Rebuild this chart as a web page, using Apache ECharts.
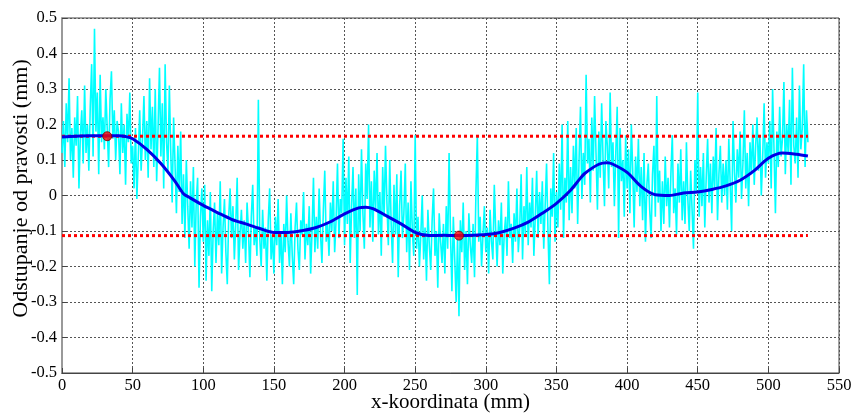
<!DOCTYPE html>
<html>
<head>
<meta charset="utf-8">
<script src="https://cdn.jsdelivr.net/npm/echarts@6/dist/echarts.min.js"></script>
<style>
  html, body { margin: 0; padding: 0; background: #fff; }
  #chart { width: 852px; height: 414px; }
</style>
</head>
<body>
<div id="chart"></div>
<script>
// izmjereni profil, korak 1 mm (od 0 do 528 mm)
var noiseY = [
  0.12, 0.21, 0.08, 0.26, 0.15, 0.33, 0.10, 0.19, 0.05, 0.22,
  0.14, 0.28, 0.02, 0.17, 0.24, 0.09, 0.31, 0.12, 0.20, 0.07,
  0.25, 0.37, 0.11, 0.47, 0.18, 0.29, 0.06, 0.34, 0.15, 0.22,
  0.13, 0.30, 0.19, 0.08, 0.27, 0.35, 0.16, 0.24, 0.10, 0.21,
  0.18, 0.06, 0.26, 0.12, 0.20, 0.03, 0.23, 0.15, 0.29, 0.09,
  0.14, 0.02, 0.19, -0.01, 0.11, 0.24, 0.07, 0.16, 0.28, 0.10,
  0.21, 0.05, 0.33, 0.13, 0.25, 0.08, 0.30, 0.04, 0.19, 0.36,
  0.11, 0.26, 0.02, 0.37, 0.15, 0.07, 0.31, 0.12, -0.02, 0.22,
  0.09, -0.05, 0.14, 0.01, 0.18, -0.08, 0.06, -0.12, 0.10, -0.03,
  -0.15, 0.04, -0.09, 0.08, -0.20, -0.02, 0.05, -0.26, -0.06, 0.02,
  -0.13, 0.03, -0.24, -0.07, -0.17, 0.01, -0.27, -0.10, -0.02, -0.19,
  -0.05, -0.14, 0.04, -0.22, -0.09, -0.01, -0.16, -0.25, -0.06, 0.02,
  -0.12, -0.03, -0.18, -0.08, 0.05, -0.21, -0.11, -0.04, -0.15, -0.07,
  -0.19, -0.02, -0.10, -0.23, -0.06, 0.03, -0.14, -0.09, -0.17, 0.27,
  -0.12, -0.20, -0.04, -0.15, -0.09, -0.24, -0.07, 0.02, -0.18, -0.11,
  -0.22, -0.06, -0.14, -0.01, -0.19, -0.10, -0.25, -0.08, -0.16, 0.00,
  -0.13, -0.20, -0.05, -0.17, -0.25, -0.09, -0.02, -0.15, -0.21, -0.07,
  -0.11, 0.01, -0.18, -0.08, -0.14, -0.03, -0.22, -0.10, 0.05, -0.16,
  -0.06, -0.15, 0.02, -0.11, -0.19, -0.04, 0.07, -0.13, -0.08, -0.17,
  -0.02, -0.10, 0.04, -0.16, -0.07, 0.09, -0.12, -0.01, -0.05, 0.16,
  -0.14, 0.05, -0.08, 0.11, -0.19, -0.03, 0.08, -0.12, 0.02, -0.28,
  0.06, -0.10, 0.13, -0.05, -0.15, 0.09, -0.01, 0.20, -0.09, 0.04,
  -0.13, 0.07, -0.04, 0.12, -0.11, 0.01, -0.17, 0.08, -0.06, 0.14,
  -0.02, -0.14, 0.10, -0.08, -0.19, 0.03, -0.11, 0.06, -0.23, -0.03,
  0.07, -0.12, -0.05, 0.09, -0.16, -0.02, -0.21, 0.04, -0.10, -0.17,
  0.17, -0.15, -0.06, -0.20, -0.11, 0.00, -0.18, -0.09, -0.24, -0.04,
  -0.14, -0.21, -0.07, 0.02, -0.17, -0.10, -0.26, -0.05, -0.13, -0.19,
  -0.08, -0.22, -0.03, -0.15, 0.12, -0.11, -0.27, -0.06, -0.18, -0.30,
  -0.12, -0.34, -0.07, -0.16, -0.02, -0.21, -0.10, -0.25, -0.05, -0.14,
  -0.19, -0.08, -0.23, 0.01, 0.17, -0.13, -0.06, -0.20, -0.11, -0.03,
  -0.16, -0.09, -0.22, -0.04, -0.13, -0.18, 0.03, -0.10, -0.20, -0.07,
  -0.14, -0.02, -0.22, -0.11, -0.06, -0.17, 0.04, -0.12, -0.08, -0.19,
  -0.05, -0.13, 0.02, -0.16, -0.09, 0.06, -0.18, -0.03, -0.11, 0.08,
  -0.14, -0.02, -0.09, 0.05, -0.17, -0.06, 0.07, -0.12, 0.01, -0.08,
  0.04, -0.15, -0.03, 0.09, -0.10, -0.25, 0.02, -0.06, 0.12, -0.13,
  0.01, -0.09, 0.09, -0.04, 0.20, -0.12, 0.05, -0.02, 0.21, -0.07,
  0.08, -0.05, 0.14, 0.02, 0.19, -0.08, 0.10, 0.25, -0.01, 0.12,
  0.03, 0.34, 0.09, 0.16, -0.02, 0.22, 0.07, 0.28, 0.12, -0.04,
  0.18, 0.05, 0.26, 0.10, -0.03, 0.21, 0.14, 0.02, 0.29, 0.08,
  0.15, -0.03, 0.12, 0.25, -0.12, 0.19, 0.04, 0.10, -0.06, 0.17,
  0.02, 0.13, -0.05, 0.20, 0.07, -0.09, 0.11, 0.01, 0.16, -0.03,
  0.08, -0.07, 0.12, -0.13, 0.03, 0.09, -0.04, -0.12, 0.06, 0.14,
  -0.06, 0.28, -0.02, 0.07, -0.10, 0.04, -0.08, 0.11, -0.03, 0.05,
  -0.09, 0.06, 0.17, -0.05, 0.02, -0.11, 0.09, -0.02, 0.13, -0.07,
  0.04, -0.08, 0.15, -0.01, -0.10, 0.07, -0.04, -0.15, 0.10, 0.01,
  0.29, -0.06, 0.08, -0.03, 0.12, -0.09, 0.05, 0.16, -0.02, 0.09,
  -0.05, 0.11, 0.02, 0.19, -0.07, 0.06, 0.14, -0.02, 0.09, 0.00,
  0.10, -0.04, 0.16, 0.03, -0.10, 0.21, 0.07, -0.02, 0.13, 0.05,
  0.18, -0.01, 0.09, 0.24, 0.02, 0.12, -0.03, 0.15, 0.06, 0.20,
  0.03, 0.14, 0.22, 0.07, 0.17, 0.00, 0.11, 0.26, 0.05, 0.15,
  0.09, 0.21, 0.02, 0.30, 0.13, -0.05, 0.18, 0.08, 0.25, 0.11,
  0.16, 0.32, 0.06, 0.20, 0.12, 0.27, 0.03, 0.36, 0.14, 0.09,
  0.22, 0.05, 0.31, 0.13, 0.19, 0.37, 0.08, 0.24, 0.15
];

// zagladjeni profil
var smoothX = [0, 10, 20, 30, 40, 45, 50, 60, 70, 80, 86, 90, 100, 110, 120, 130, 140, 150, 160, 170,
  180, 190, 200, 210, 215, 220, 230, 240, 250, 260, 270, 280, 290, 300, 310, 320, 330, 340, 350, 360,
  366, 370, 380, 386, 390, 400, 410, 420, 430, 440, 450, 460, 470, 480, 490, 500, 510, 520, 528];
var smoothY = [0.165, 0.167, 0.168, 0.168, 0.168, 0.166, 0.16, 0.13, 0.09, 0.04, 0.005, -0.005, -0.028, -0.048, -0.067, -0.08, -0.093, -0.104, -0.104, -0.099,
  -0.09, -0.074, -0.052, -0.035, -0.033, -0.037, -0.058, -0.08, -0.104, -0.113, -0.112, -0.113, -0.112, -0.11, -0.104, -0.092, -0.075, -0.05, -0.022, 0.015,
  0.044, 0.062, 0.088, 0.092, 0.088, 0.065, 0.025, 0.002, 0.0, 0.007, 0.01, 0.017, 0.027, 0.043, 0.07, 0.105, 0.12, 0.116, 0.111];

// granice odstupanja
var limitX = [0, 528];
var upperLimit = 0.167;
var lowerLimit = -0.113;
var extremeX = [32, 281];
var extremeY = [0.167, -0.113];

var xTicks = { min: 0, max: 550, interval: 50 };
var yTicks = { min: -0.5, max: 0.5, interval: 0.1 };

var noiseData = [];
for (var i = 0; i < noiseY.length; i++) {
    noiseData.push([i, noiseY[i]]);
}
var smoothData = smoothX.map(function (x, i) { return [x, smoothY[i]]; });
var upperData = limitX.map(function (x) { return [x, upperLimit]; });
var lowerData = limitX.map(function (x) { return [x, lowerLimit]; });
var extremeData = extremeX.map(function (x, i) { return [x, extremeY[i]]; });

var chart = echarts.init(document.getElementById('chart'));
var font = 'Liberation Serif';
var gridLine = { show: true, lineStyle: { color: '#555', type: [2, 2], width: 1 } };

var option = {
    backgroundColor: '#fff',
    animation: false,
    grid: {
        left: 62, right: 13, top: 18, bottom: 41,
        outerBoundsMode: 'none', containLabel: false,
        show: true, borderColor: '#444', borderWidth: 1
    },
    xAxis: {
        type: 'value',
        min: xTicks.min, max: xTicks.max, interval: xTicks.interval,
        name: 'x-koordinata (mm)',
        nameLocation: 'middle',
        nameGap: 19,
        nameMoveOverlap: false,
        nameTextStyle: { fontFamily: font, fontSize: 21, color: '#000' },
        axisLine: { onZero: false, lineStyle: { color: '#444' } },
        axisTick: { inside: true, length: 5, lineStyle: { color: '#444' } },
        axisLabel: { fontFamily: font, fontSize: 16.5, color: '#000', margin: 4 },
        splitLine: gridLine
    },
    yAxis: {
        type: 'value',
        min: yTicks.min, max: yTicks.max, interval: yTicks.interval,
        name: 'Odstupanje od pravosti (mm)',
        nameLocation: 'middle',
        nameGap: 30,
        nameMoveOverlap: false,
        nameTextStyle: { fontFamily: font, fontSize: 22, color: '#000', padding: [0, 0, 0, 14] },
        axisLine: { show: true, onZero: false, lineStyle: { color: '#999', width: 2 } },
        axisTick: { inside: true, length: 5, lineStyle: { color: '#444' } },
        axisLabel: {
            fontFamily: font, fontSize: 16.5, color: '#000', margin: 5,
            formatter: function (v) { return String(parseFloat(v.toFixed(1))); }
        },
        splitLine: gridLine
    },
    series: [
        {
            type: 'line', data: noiseData, symbol: 'none',
            lineStyle: { color: '#00ffff', width: 1.6 }, z: 1
        },
        {
            type: 'line', data: upperData, symbol: 'none',
            lineStyle: { color: '#ff0000', width: 3, type: [3, 3] }, z: 2
        },
        {
            type: 'line', data: lowerData, symbol: 'none',
            lineStyle: { color: '#ff0000', width: 3, type: [3, 3] }, z: 2
        },
        {
            type: 'line', data: smoothData, symbol: 'none', smooth: 0.3,
            lineStyle: { color: '#0000e6', width: 3 }, z: 3
        },
        {
            type: 'scatter', data: extremeData, symbol: 'circle', symbolSize: 9,
            itemStyle: { color: '#ff0000', borderColor: '#800000', borderWidth: 1 }, z: 4
        }
    ]
};

chart.setOption(option);
</script>
</body>
</html>
